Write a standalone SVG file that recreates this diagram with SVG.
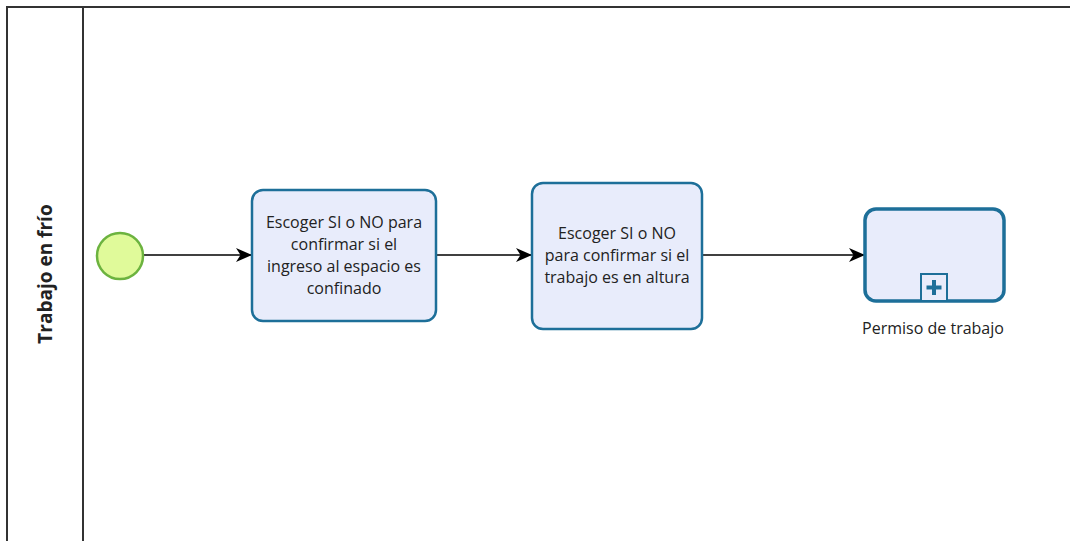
<svg xmlns="http://www.w3.org/2000/svg" width="1070" height="541" viewBox="0 0 1070 541">
  <defs>
    <style>
      .pool { fill: #ffffff; stroke: #333333; stroke-width: 2; }
      .task { fill: #e8ecfb; stroke: #1d6f99; stroke-width: 2.5; }
      .sub { fill: #e8ecfb; stroke: #1d6f99; stroke-width: 3.5; }
      .start { fill: #e0fa9a; stroke: #6cb33f; stroke-width: 2.5; }
      .flow { fill: none; stroke: #000000; stroke-width: 1.5; marker-end: url(#arrow); }
      .label { font-family: "Open Sans", "Noto Sans", sans-serif; font-size: 16px; fill: #222222; text-anchor: middle; }
      .lane { font-family: "Open Sans", "Noto Sans", sans-serif; font-size: 19px; font-weight: bold; fill: #222222; text-anchor: middle; }
    </style>
    <marker id="arrow" viewBox="0 0 16 14" refX="15" refY="7" markerWidth="16" markerHeight="14" markerUnits="userSpaceOnUse" orient="auto">
      <path d="M0,0 L16,7 L0,14 L4.5,7 Z" fill="#000000"/>
    </marker>
  </defs>

  <!-- pool with a single lane -->
  <g id="pool">
    <rect class="pool" x="7" y="7" width="1080" height="550"/>
    <line x1="83" y1="7" x2="83" y2="541" stroke="#333333" stroke-width="2"/>
    <text class="lane" transform="translate(52,274) rotate(-90)">Trabajo en frío</text>
  </g>

  <!-- sequence flows -->
  <g id="connectors">
    <line class="flow" x1="144" y1="255" x2="251" y2="255"/>
    <line class="flow" x1="437" y1="255" x2="531" y2="255"/>
    <line class="flow" x1="703" y1="255" x2="864" y2="255"/>
  </g>

  <g id="start-event">
    <circle class="start" cx="120" cy="256" r="23"/>
  </g>

  <g id="task-espacio-confinado">
    <rect class="task" x="252" y="190" width="184" height="131" rx="11"/>
    <text class="label" x="344" y="228">Escoger SI o NO para</text>
    <text class="label" x="344" y="250">confirmar si el</text>
    <text class="label" x="344" y="272">ingreso al espacio es</text>
    <text class="label" x="344" y="294">confinado</text>
  </g>

  <g id="task-trabajo-altura">
    <rect class="task" x="532" y="183" width="170" height="146" rx="11"/>
    <text class="label" x="617" y="239">Escoger SI o NO</text>
    <text class="label" x="617" y="261">para confirmar si el</text>
    <text class="label" x="617" y="283">trabajo es en altura</text>
  </g>

  <g id="subprocess-permiso">
    <rect class="sub" x="865" y="209" width="139" height="92" rx="11"/>
    <rect x="921" y="274" width="26" height="27" fill="#e8ecfb" stroke="#1d6f99" stroke-width="2"/>
    <path d="M934,280 V295 M926.5,287.5 H941.5" stroke="#1d6f99" stroke-width="4" fill="none"/>
    <text class="label" x="933" y="334">Permiso de trabajo</text>
  </g>
</svg>
